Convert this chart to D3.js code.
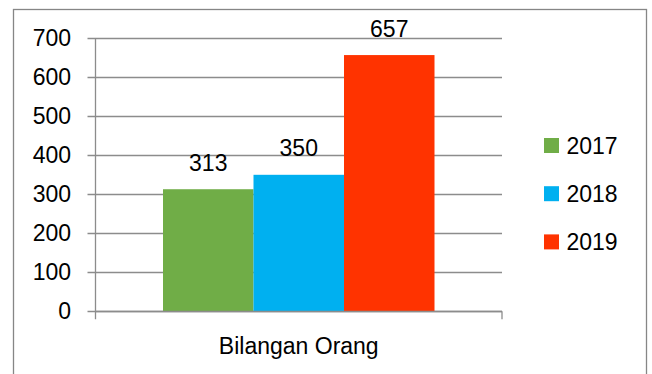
<!DOCTYPE html>
<html>
<head>
<meta charset="utf-8">
<script src="https://cdn.jsdelivr.net/npm/d3@7"></script>
<style>
  html, body { margin: 0; padding: 0; background: #fff; }
  svg { display: block; }
  text { font-family: "Liberation Sans", Arial, sans-serif; font-size: 23px; fill: #000; }
</style>
</head>
<body>
<svg id="chart" width="652" height="374"></svg>
<script>
const categories = ["Bilangan Orang"];
const seriesNames = ["2017", "2018", "2019"];
const seriesValues = [313, 350, 657];
const seriesColors = ["#70AD47", "#00B0F0", "#FF3300"];
const yTicks = [0, 100, 200, 300, 400, 500, 600, 700];

const svg = d3.select("#chart");
const W = 652, H = 374;

// outer frame
svg.append("rect")
  .attr("x", 13.5).attr("y", 9.5)
  .attr("width", 633).attr("height", 380)
  .attr("fill", "none").attr("stroke", "#868686").attr("stroke-width", 1.3);

const plot = { left: 95.5, right: 502, top: 38.3, bottom: 311.3 };

const y = d3.scaleLinear().domain([0, 700]).range([plot.bottom, plot.top]);
const x0 = d3.scaleBand().domain(categories).range([plot.left, plot.right]).paddingInner(0).paddingOuter(0);
const groupPad = 67.5;
const x1 = d3.scaleBand().domain(seriesNames)
  .range([x0(categories[0]) + groupPad, x0(categories[0]) + x0.bandwidth() - groupPad]);

// gridlines
svg.append("g").selectAll("line").data(yTicks).join("line")
  .attr("x1", plot.left - 8).attr("x2", plot.right)
  .attr("y1", d => Math.round(y(d)) + 0.5).attr("y2", d => Math.round(y(d)) + 0.5)
  .attr("stroke", "#8c8c8c").attr("stroke-width", 1.3);

// y axis labels
svg.append("g").selectAll("text").data(yTicks).join("text")
  .attr("x", 71).attr("y", d => y(d))
  .attr("dy", "0.35em")
  .attr("text-anchor", "end")
  .text(d => d);

// bars
const data = seriesNames.map((s, i) => ({ s, v: seriesValues[i], c: seriesColors[i] }));
svg.append("g").selectAll("rect").data(data).join("rect")
  .attr("x", d => x1(d.s)).attr("width", x1.bandwidth())
  .attr("y", d => y(d.v)).attr("height", d => y(0) - y(d.v))
  .attr("fill", d => d.c);

// value labels
svg.append("g").selectAll("text").data(data).join("text")
  .attr("x", d => x1(d.s) + x1.bandwidth() / 2)
  .attr("y", d => y(d.v) - 18.5)
  .attr("text-anchor", "middle")
  .text(d => d.v);

// axes lines
svg.append("line")
  .attr("x1", plot.left).attr("x2", plot.left)
  .attr("y1", plot.top).attr("y2", plot.bottom + 8)
  .attr("stroke", "#8c8c8c").attr("stroke-width", 1.3);
svg.append("line")
  .attr("x1", plot.left).attr("x2", plot.right)
  .attr("y1", Math.round(y(0)) + 0.5).attr("y2", Math.round(y(0)) + 0.5)
  .attr("stroke", "#8c8c8c").attr("stroke-width", 1.3);
svg.append("line")
  .attr("x1", plot.right).attr("x2", plot.right)
  .attr("y1", plot.bottom).attr("y2", plot.bottom + 8)
  .attr("stroke", "#8c8c8c").attr("stroke-width", 1.3);

// category label
svg.append("g").selectAll("text").data(categories).join("text")
  .attr("x", d => x0(d) + x0.bandwidth() / 2)
  .attr("y", 353.5)
  .attr("text-anchor", "middle")
  .text(d => d);

// legend
const lg = svg.append("g").selectAll("g").data(data).join("g")
  .attr("transform", (d, i) => `translate(544, ${145.5 + i * 48.2})`);
lg.append("rect").attr("x", 0).attr("y", -7.5).attr("width", 15).attr("height", 15)
  .attr("fill", d => d.c);
lg.append("text").attr("x", 22.5).attr("y", 0).attr("dy", "0.35em").text(d => d.s);
</script>
</body>
</html>
